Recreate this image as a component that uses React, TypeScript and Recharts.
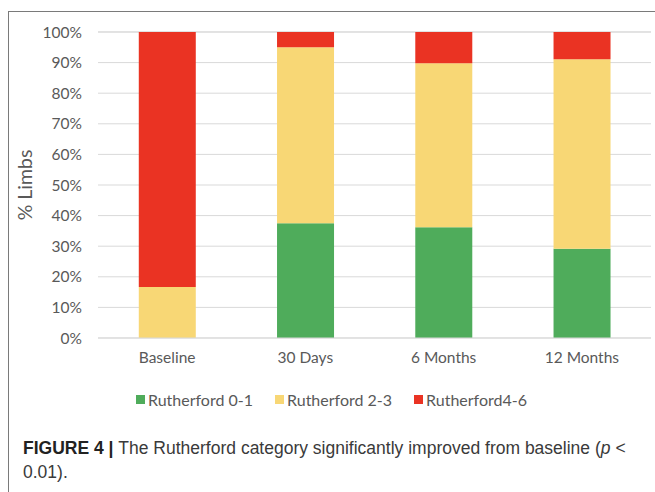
import { Bar, BarChart, CartesianGrid, Legend, XAxis, YAxis } from "recharts"

const periods = ["Baseline", "30 Days", "6 Months", "12 Months"]
const rutherford01 = [0, 37.5, 36.2, 29.2]
const rutherford23 = [16.7, 57.5, 53.6, 61.9]
const rutherford46 = [83.3, 5, 10.2, 8.9]
const yTicks = [0, 10, 20, 30, 40, 50, 60, 70, 80, 90, 100]

const series = [
  { key: "r01", name: "Rutherford 0-1", color: "#4fac5b" },
  { key: "r23", name: "Rutherford 2-3", color: "#f8d775" },
  { key: "r46", name: "Rutherford4-6", color: "#ea3323" },
]

const chartData = periods.map((period, i) => ({
  period,
  r01: rutherford01[i],
  r23: rutherford23[i],
  r46: rutherford46[i],
}))

const chartFont = "Lato, 'Open Sans', sans-serif"

function LegendRow() {
  return (
    <div
      style={{
        display: "flex",
        justifyContent: "center",
        gap: 22,
        fontFamily: chartFont,
        fontSize: 16,
        color: "#595959",
        paddingLeft: 8,
      }}
    >
      {series.map((s) => (
        <div key={s.key} style={{ display: "flex", alignItems: "center", gap: 3 }}>
          <span style={{ width: 9, height: 9, background: s.color, display: "inline-block" }} />
          <span>{s.name}</span>
        </div>
      ))}
    </div>
  )
}

export default function App() {
  return (
    <div
      style={{
        position: "absolute",
        left: 0,
        top: 0,
        width: 655,
        height: 492,
        overflow: "hidden",
        background: "#fff",
      }}
    >
      <div
        style={{
          position: "absolute",
          left: 8,
          top: 11,
          width: 700,
          height: 520,
          border: "1.5px solid #7a7a7a",
        }}
      />
      <div style={{ position: "absolute", left: 0, top: 0 }}>
        <BarChart
          width={655}
          height={380}
          data={chartData}
          margin={{ top: 32, right: 4, bottom: 12, left: 0 }}
          barCategoryGap="29.5%"
        >
          <CartesianGrid stroke="#d9d9d9" vertical={false} />
          <XAxis
            dataKey="period"
            axisLine={{ stroke: "#d9d9d9" }}
            tickLine={false}
            height={30}
            tickMargin={8}
            tick={{ fill: "#595959", fontSize: 15.5, fontFamily: chartFont }}
          />
          <YAxis
            width={98}
            domain={[0, 100]}
            ticks={yTicks}
            axisLine={false}
            tickLine={false}
            tickMargin={10}
            tickFormatter={(v) => `${v}%`}
            tick={{ fill: "#595959", fontSize: 15.5, fontFamily: chartFont }}
            label={{
              value: "% Limbs",
              angle: -90,
              position: "insideLeft",
              offset: 25,
              fill: "#595959",
              fontSize: 19.5,
              fontFamily: chartFont,
              style: { textAnchor: "middle" },
            }}
          />
          <Legend
            layout="horizontal"
            verticalAlign="middle"
            align="center"
            wrapperStyle={{ top: 390, left: 0, width: 655 }}
            content={() => <LegendRow />}
          />
          {series.map((s) => (
            <Bar
              key={s.key}
              dataKey={s.key}
              name={s.name}
              stackId="a"
              fill={s.color}
              isAnimationActive={false}
            />
          ))}
        </BarChart>
      </div>
      <div
        style={{
          position: "absolute",
          left: 23,
          top: 436,
          width: 630,
          fontFamily: "'Liberation Sans', Arial, sans-serif",
          fontSize: 17.5,
          lineHeight: "24px",
          color: "#3a3a3a",
        }}
      >
        <div style={{ whiteSpace: "nowrap" }}>
          <b style={{ color: "#222" }}>FIGURE 4 | </b>
          The Rutherford category significantly improved from baseline (<i>p</i> &lt;
        </div>
        <div>0.01).</div>
      </div>
    </div>
  )
}
